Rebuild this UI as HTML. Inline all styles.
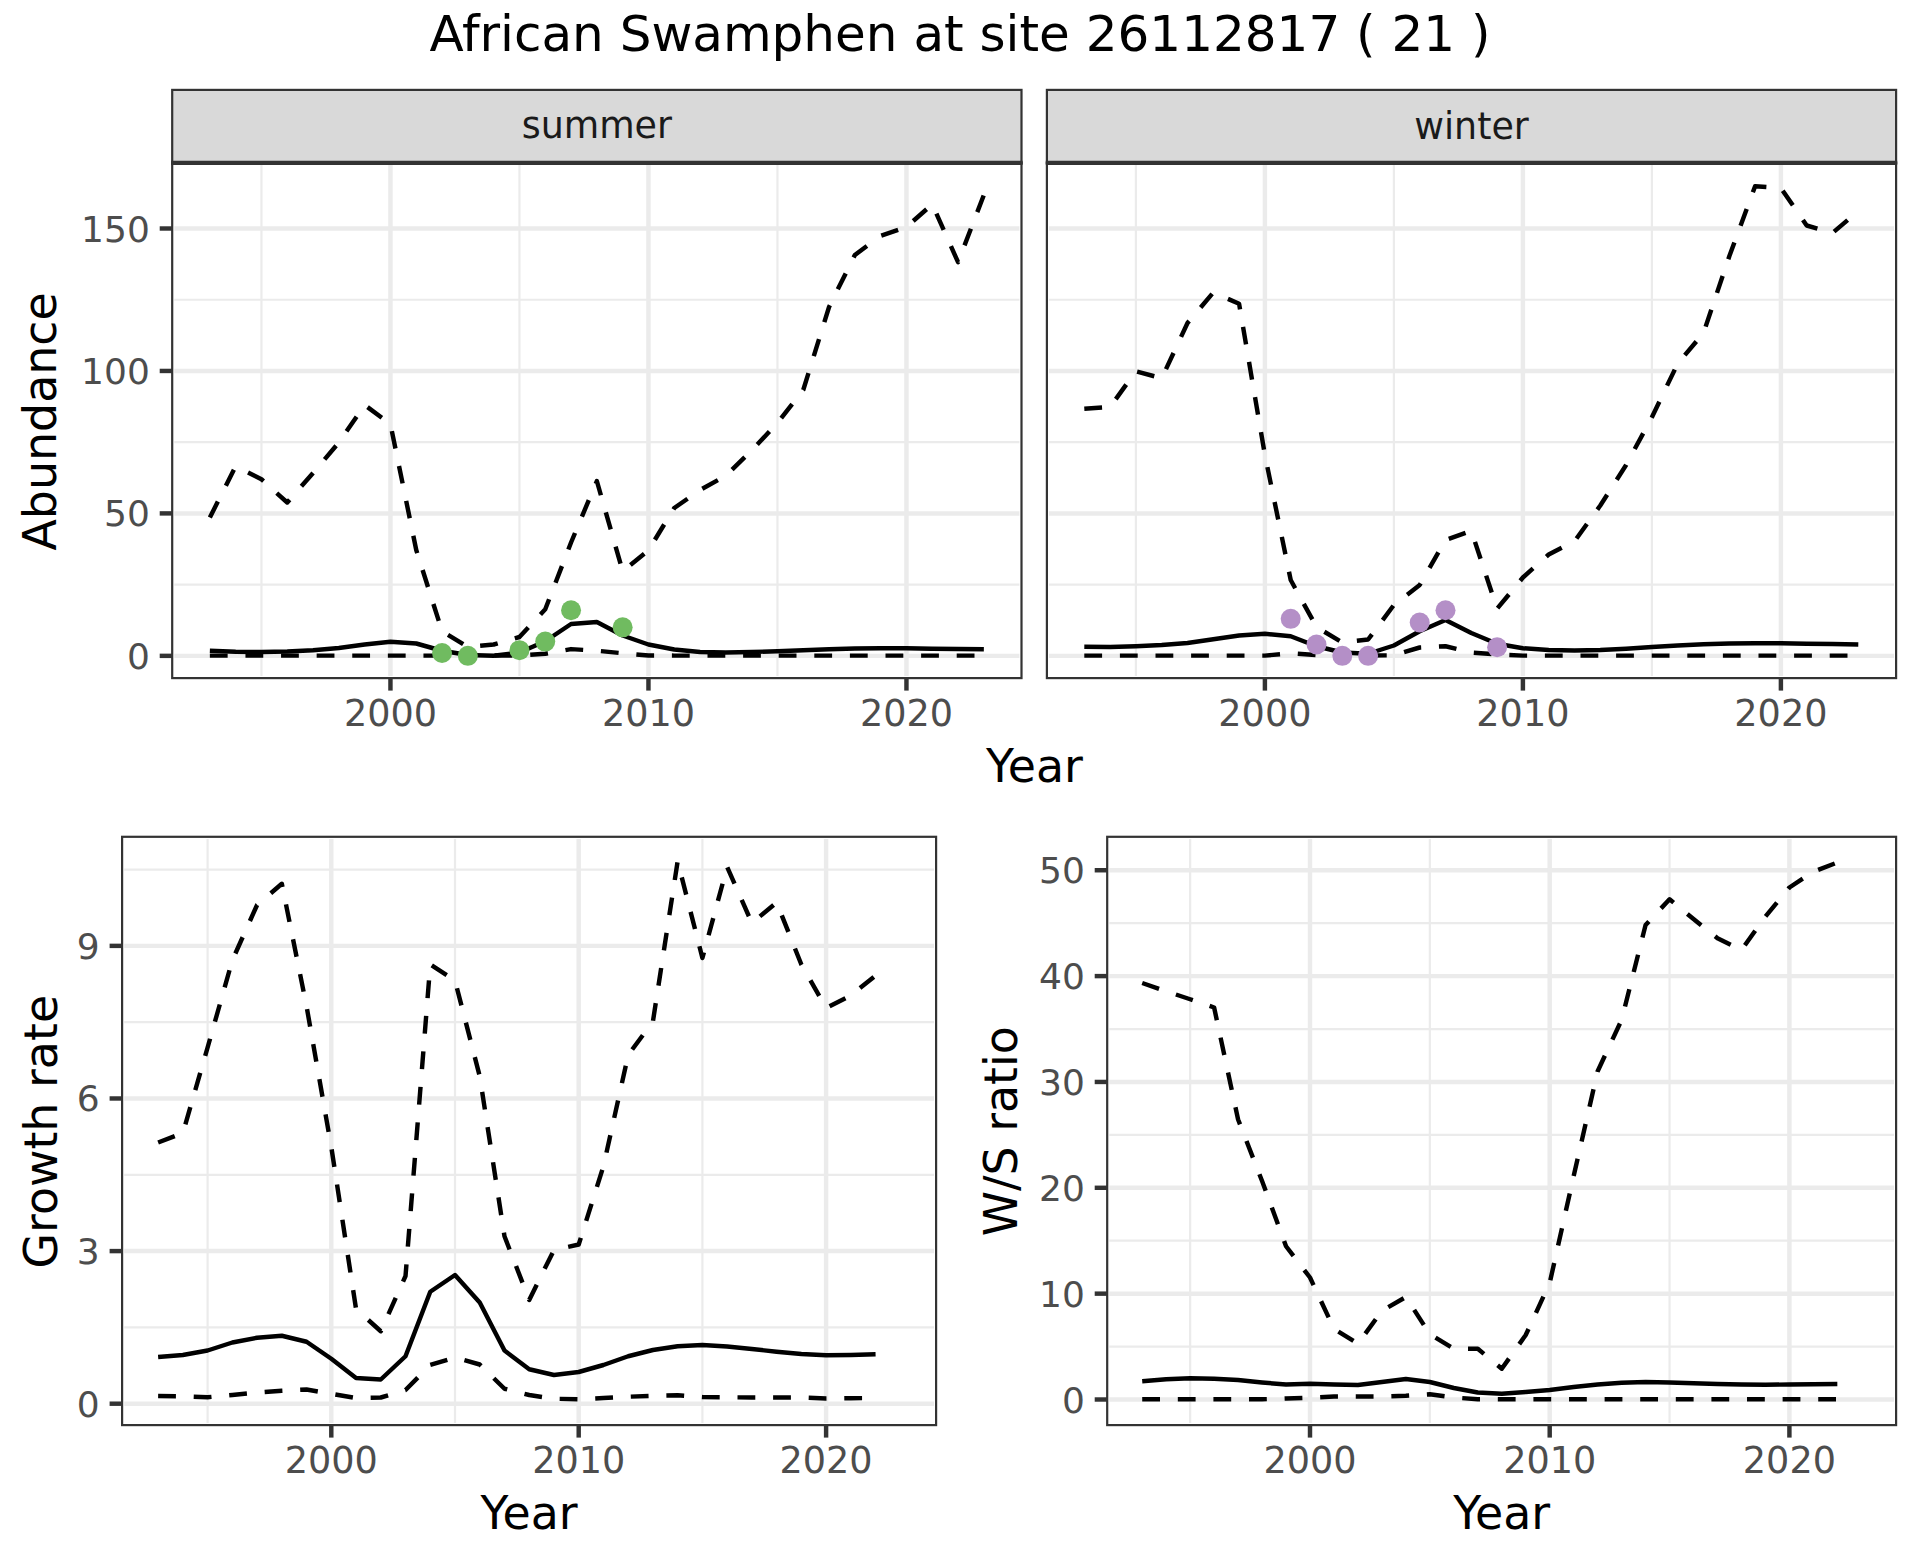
<!DOCTYPE html>
<html lang="en"><head><meta charset="utf-8"><title>African Swamphen at site 26112817</title>
<style>
html,body{margin:0;padding:0;background:#fff;}
body{width:1920px;height:1560px;overflow:hidden;}
svg{display:block;}
text{font-family:"DejaVu Sans","Liberation Sans",sans-serif;}
.ti{font-size:50px;fill:#000;}
.ax{font-size:45.83px;fill:#000;}
.tk{font-size:36px;fill:#4d4d4d;}
.tx{font-size:36.6px;}
.st{font-size:36.4px;fill:#1a1a1a;}
</style></head><body>
<svg width="1920" height="1560" viewBox="0 0 1920 1560">
<rect width="1920" height="1560" fill="#fff"/>
<text x="960" y="50.9" text-anchor="middle" class="ti">African Swamphen at site 26112817 ( 21 )</text>
<rect x="172.2" y="162.9" width="849.30" height="515.20" fill="#fff"/>
<clipPath id="c1"><rect x="172.2" y="162.9" width="849.30" height="515.20"/></clipPath>
<g clip-path="url(#c1)">
<line x1="174.30" x2="1019.40" y1="584.62" y2="584.62" stroke="#ebebeb" stroke-width="2.2"/>
<line x1="174.30" x2="1019.40" y1="442.18" y2="442.18" stroke="#ebebeb" stroke-width="2.2"/>
<line x1="174.30" x2="1019.40" y1="299.73" y2="299.73" stroke="#ebebeb" stroke-width="2.2"/>
<line x1="261.45" x2="261.45" y1="165.00" y2="676.00" stroke="#ebebeb" stroke-width="2.2"/>
<line x1="519.45" x2="519.45" y1="165.00" y2="676.00" stroke="#ebebeb" stroke-width="2.2"/>
<line x1="777.45" x2="777.45" y1="165.00" y2="676.00" stroke="#ebebeb" stroke-width="2.2"/>
<line x1="174.30" x2="1019.40" y1="655.85" y2="655.85" stroke="#ebebeb" stroke-width="4.45"/>
<line x1="174.30" x2="1019.40" y1="513.40" y2="513.40" stroke="#ebebeb" stroke-width="4.45"/>
<line x1="174.30" x2="1019.40" y1="370.95" y2="370.95" stroke="#ebebeb" stroke-width="4.45"/>
<line x1="174.30" x2="1019.40" y1="228.50" y2="228.50" stroke="#ebebeb" stroke-width="4.45"/>
<line x1="390.45" x2="390.45" y1="165.00" y2="676.00" stroke="#ebebeb" stroke-width="4.45"/>
<line x1="648.45" x2="648.45" y1="165.00" y2="676.00" stroke="#ebebeb" stroke-width="4.45"/>
<line x1="906.45" x2="906.45" y1="165.00" y2="676.00" stroke="#ebebeb" stroke-width="4.45"/>
<polyline points="209.85,655.60 235.65,655.60 261.45,655.60 287.25,655.60 313.05,655.60 338.85,655.60 364.65,655.60 390.45,655.60 416.25,655.60 442.05,655.60 467.85,655.60 493.65,655.60 519.45,655.50 545.25,653.75 571.05,649.10 596.85,650.75 622.65,653.25 648.45,655.50 674.25,655.60 700.05,655.60 725.85,655.60 751.65,655.60 777.45,655.60 803.25,655.60 829.05,655.60 854.85,655.60 880.65,655.60 906.45,655.60 932.25,655.60 958.05,655.60 983.85,655.60" fill="none" stroke="#000" stroke-width="4.45" stroke-linejoin="round" stroke-linecap="butt" stroke-dasharray="17.8 17.8"/>
<polyline points="209.85,517.50 235.65,466.30 261.45,479.25 287.25,502.50 313.05,473.00 338.85,442.50 364.65,405.00 390.45,424.20 416.25,550.00 442.05,631.25 467.85,647.00 493.65,644.50 519.45,637.00 545.25,609.30 571.05,542.50 596.85,481.00 622.65,571.20 648.45,550.30 674.25,508.00 700.05,490.00 725.85,475.75 751.65,450.50 777.45,423.00 803.25,390.00 829.05,307.00 854.85,255.00 880.65,235.75 906.45,227.00 932.25,204.30 958.05,262.20 983.85,195.00" fill="none" stroke="#000" stroke-width="4.45" stroke-linejoin="round" stroke-linecap="butt" stroke-dasharray="17.8 17.8"/>
<polyline points="209.85,650.75 235.65,651.75 261.45,652.00 287.25,651.50 313.05,650.25 338.85,648.00 364.65,644.50 390.45,641.75 416.25,643.50 442.05,650.75 467.85,655.00 493.65,655.75 519.45,652.50 545.25,641.25 571.05,624.00 596.85,622.00 622.65,635.50 648.45,644.50 674.25,649.50 700.05,652.00 725.85,652.50 751.65,652.00 777.45,651.25 803.25,650.25 829.05,649.25 854.85,648.50 880.65,648.25 906.45,648.25 932.25,648.75 958.05,649.00 983.85,649.25" fill="none" stroke="#000" stroke-width="4.45" stroke-linejoin="round" stroke-linecap="butt"/>
<circle cx="442.05" cy="653.00" r="10" fill="#70BB60"/>
<circle cx="467.85" cy="655.85" r="10" fill="#70BB60"/>
<circle cx="519.45" cy="650.15" r="10" fill="#70BB60"/>
<circle cx="545.25" cy="641.61" r="10" fill="#70BB60"/>
<circle cx="571.05" cy="610.27" r="10" fill="#70BB60"/>
<circle cx="622.65" cy="627.36" r="10" fill="#70BB60"/>
</g>
<rect x="172.2" y="162.9" width="849.30" height="515.20" fill="none" stroke="#333" stroke-width="2.2"/>
<line x1="390.45" x2="390.45" y1="678.1" y2="690.60" stroke="#333" stroke-width="4.45"/>
<text x="390.45" y="726.40" text-anchor="middle" class="tk tx">2000</text>
<line x1="648.45" x2="648.45" y1="678.1" y2="690.60" stroke="#333" stroke-width="4.45"/>
<text x="648.45" y="726.40" text-anchor="middle" class="tk tx">2010</text>
<line x1="906.45" x2="906.45" y1="678.1" y2="690.60" stroke="#333" stroke-width="4.45"/>
<text x="906.45" y="726.40" text-anchor="middle" class="tk tx">2020</text>
<line x1="159.70" x2="172.2" y1="655.85" y2="655.85" stroke="#333" stroke-width="4.45"/>
<text x="149.80" y="668.85" text-anchor="end" class="tk">0</text>
<line x1="159.70" x2="172.2" y1="513.40" y2="513.40" stroke="#333" stroke-width="4.45"/>
<text x="149.80" y="526.40" text-anchor="end" class="tk">50</text>
<line x1="159.70" x2="172.2" y1="370.95" y2="370.95" stroke="#333" stroke-width="4.45"/>
<text x="149.80" y="383.95" text-anchor="end" class="tk">100</text>
<line x1="159.70" x2="172.2" y1="228.50" y2="228.50" stroke="#333" stroke-width="4.45"/>
<text x="149.80" y="241.50" text-anchor="end" class="tk">150</text>
<rect x="1046.9" y="162.9" width="849.20" height="515.20" fill="#fff"/>
<clipPath id="c2"><rect x="1046.9" y="162.9" width="849.20" height="515.20"/></clipPath>
<g clip-path="url(#c2)">
<line x1="1049.00" x2="1894.00" y1="584.62" y2="584.62" stroke="#ebebeb" stroke-width="2.2"/>
<line x1="1049.00" x2="1894.00" y1="442.18" y2="442.18" stroke="#ebebeb" stroke-width="2.2"/>
<line x1="1049.00" x2="1894.00" y1="299.73" y2="299.73" stroke="#ebebeb" stroke-width="2.2"/>
<line x1="1135.90" x2="1135.90" y1="165.00" y2="676.00" stroke="#ebebeb" stroke-width="2.2"/>
<line x1="1393.90" x2="1393.90" y1="165.00" y2="676.00" stroke="#ebebeb" stroke-width="2.2"/>
<line x1="1651.90" x2="1651.90" y1="165.00" y2="676.00" stroke="#ebebeb" stroke-width="2.2"/>
<line x1="1049.00" x2="1894.00" y1="655.85" y2="655.85" stroke="#ebebeb" stroke-width="4.45"/>
<line x1="1049.00" x2="1894.00" y1="513.40" y2="513.40" stroke="#ebebeb" stroke-width="4.45"/>
<line x1="1049.00" x2="1894.00" y1="370.95" y2="370.95" stroke="#ebebeb" stroke-width="4.45"/>
<line x1="1049.00" x2="1894.00" y1="228.50" y2="228.50" stroke="#ebebeb" stroke-width="4.45"/>
<line x1="1264.90" x2="1264.90" y1="165.00" y2="676.00" stroke="#ebebeb" stroke-width="4.45"/>
<line x1="1522.90" x2="1522.90" y1="165.00" y2="676.00" stroke="#ebebeb" stroke-width="4.45"/>
<line x1="1780.90" x2="1780.90" y1="165.00" y2="676.00" stroke="#ebebeb" stroke-width="4.45"/>
<polyline points="1084.30,655.60 1110.10,655.60 1135.90,655.60 1161.70,655.60 1187.50,655.60 1213.30,655.60 1239.10,655.60 1264.90,655.60 1290.70,653.25 1316.50,655.00 1342.30,655.60 1368.10,655.60 1393.90,655.30 1419.70,647.50 1445.50,646.25 1471.30,652.50 1497.10,654.50 1522.90,655.60 1548.70,655.60 1574.50,655.60 1600.30,655.60 1626.10,655.60 1651.90,655.60 1677.70,655.60 1703.50,655.60 1729.30,655.60 1755.10,655.60 1780.90,655.60 1806.70,655.60 1832.50,655.60 1858.30,655.60" fill="none" stroke="#000" stroke-width="4.45" stroke-linejoin="round" stroke-linecap="butt" stroke-dasharray="17.8 17.8"/>
<polyline points="1084.30,408.75 1110.10,407.00 1135.90,371.25 1161.70,378.25 1187.50,323.00 1213.30,292.50 1239.10,303.75 1264.90,455.00 1290.70,580.00 1316.50,627.00 1342.30,642.50 1368.10,639.50 1393.90,605.00 1419.70,585.00 1445.50,540.00 1471.30,530.75 1497.10,608.75 1522.90,577.50 1548.70,554.50 1574.50,541.25 1600.30,505.50 1626.10,465.00 1651.90,417.20 1677.70,363.50 1703.50,333.00 1729.30,256.25 1755.10,186.25 1780.90,188.00 1806.70,225.50 1832.50,233.00 1858.30,211.00" fill="none" stroke="#000" stroke-width="4.45" stroke-linejoin="round" stroke-linecap="butt" stroke-dasharray="17.8 17.8"/>
<polyline points="1084.30,646.75 1110.10,647.00 1135.90,646.25 1161.70,645.00 1187.50,643.00 1213.30,639.25 1239.10,635.50 1264.90,633.75 1290.70,636.25 1316.50,646.25 1342.30,652.50 1368.10,653.75 1393.90,645.50 1419.70,631.25 1445.50,620.00 1471.30,633.00 1497.10,643.75 1522.90,648.25 1548.70,650.00 1574.50,650.50 1600.30,650.00 1626.10,648.75 1651.90,647.00 1677.70,645.50 1703.50,644.25 1729.30,643.50 1755.10,643.25 1780.90,643.25 1806.70,643.75 1832.50,644.00 1858.30,644.50" fill="none" stroke="#000" stroke-width="4.45" stroke-linejoin="round" stroke-linecap="butt"/>
<circle cx="1290.70" cy="618.81" r="10" fill="#B48FC7"/>
<circle cx="1316.50" cy="644.45" r="10" fill="#B48FC7"/>
<circle cx="1342.30" cy="655.85" r="10" fill="#B48FC7"/>
<circle cx="1368.10" cy="655.85" r="10" fill="#B48FC7"/>
<circle cx="1419.70" cy="622.52" r="10" fill="#B48FC7"/>
<circle cx="1445.50" cy="610.27" r="10" fill="#B48FC7"/>
<circle cx="1497.10" cy="647.30" r="10" fill="#B48FC7"/>
</g>
<rect x="1046.9" y="162.9" width="849.20" height="515.20" fill="none" stroke="#333" stroke-width="2.2"/>
<line x1="1264.90" x2="1264.90" y1="678.1" y2="690.60" stroke="#333" stroke-width="4.45"/>
<text x="1264.90" y="726.40" text-anchor="middle" class="tk tx">2000</text>
<line x1="1522.90" x2="1522.90" y1="678.1" y2="690.60" stroke="#333" stroke-width="4.45"/>
<text x="1522.90" y="726.40" text-anchor="middle" class="tk tx">2010</text>
<line x1="1780.90" x2="1780.90" y1="678.1" y2="690.60" stroke="#333" stroke-width="4.45"/>
<text x="1780.90" y="726.40" text-anchor="middle" class="tk tx">2020</text>
<rect x="172.2" y="89.9" width="849.30" height="73.00" fill="#d9d9d9" stroke="#333" stroke-width="2.2"/>
<line x1="171.10" x2="1022.60" y1="162.9" y2="162.9" stroke="#333" stroke-width="4.2"/>
<text x="596.85" y="138.2" text-anchor="middle" class="st">summer</text>
<rect x="1046.9" y="89.9" width="849.20" height="73.00" fill="#d9d9d9" stroke="#333" stroke-width="2.2"/>
<line x1="1045.80" x2="1897.20" y1="162.9" y2="162.9" stroke="#333" stroke-width="4.2"/>
<text x="1471.50" y="138.7" text-anchor="middle" class="st">winter</text>
<text x="1034.4" y="782" text-anchor="middle" class="ax">Year</text>
<text transform="translate(56.2,421.4) rotate(-90)" text-anchor="middle" class="ax">Abundance</text>
<rect x="122.1" y="836.8" width="814.00" height="588.30" fill="#fff"/>
<clipPath id="c3"><rect x="122.1" y="836.8" width="814.00" height="588.30"/></clipPath>
<g clip-path="url(#c3)">
<line x1="124.20" x2="934.00" y1="1327.39" y2="1327.39" stroke="#ebebeb" stroke-width="2.2"/>
<line x1="124.20" x2="934.00" y1="1174.79" y2="1174.79" stroke="#ebebeb" stroke-width="2.2"/>
<line x1="124.20" x2="934.00" y1="1022.18" y2="1022.18" stroke="#ebebeb" stroke-width="2.2"/>
<line x1="124.20" x2="934.00" y1="869.57" y2="869.57" stroke="#ebebeb" stroke-width="2.2"/>
<line x1="207.60" x2="207.60" y1="838.90" y2="1423.00" stroke="#ebebeb" stroke-width="2.2"/>
<line x1="455.00" x2="455.00" y1="838.90" y2="1423.00" stroke="#ebebeb" stroke-width="2.2"/>
<line x1="702.40" x2="702.40" y1="838.90" y2="1423.00" stroke="#ebebeb" stroke-width="2.2"/>
<line x1="124.20" x2="934.00" y1="1403.70" y2="1403.70" stroke="#ebebeb" stroke-width="4.45"/>
<line x1="124.20" x2="934.00" y1="1251.09" y2="1251.09" stroke="#ebebeb" stroke-width="4.45"/>
<line x1="124.20" x2="934.00" y1="1098.48" y2="1098.48" stroke="#ebebeb" stroke-width="4.45"/>
<line x1="124.20" x2="934.00" y1="945.87" y2="945.87" stroke="#ebebeb" stroke-width="4.45"/>
<line x1="331.30" x2="331.30" y1="838.90" y2="1423.00" stroke="#ebebeb" stroke-width="4.45"/>
<line x1="578.70" x2="578.70" y1="838.90" y2="1423.00" stroke="#ebebeb" stroke-width="4.45"/>
<line x1="826.10" x2="826.10" y1="838.90" y2="1423.00" stroke="#ebebeb" stroke-width="4.45"/>
<polyline points="158.12,1396.00 182.86,1396.25 207.60,1397.25 232.34,1395.00 257.08,1392.50 281.82,1390.75 306.56,1389.50 331.30,1393.75 356.04,1398.00 380.78,1397.50 405.52,1390.00 430.26,1365.00 455.00,1357.50 479.74,1364.50 504.48,1388.75 529.22,1395.00 553.96,1398.75 578.70,1399.25 603.44,1398.00 628.18,1396.75 652.92,1395.75 677.66,1395.25 702.40,1397.00 727.14,1397.25 751.88,1397.50 776.62,1397.50 801.36,1397.50 826.10,1398.50 850.84,1398.25 875.58,1398.00" fill="none" stroke="#000" stroke-width="4.45" stroke-linejoin="round" stroke-linecap="butt" stroke-dasharray="17.8 17.8"/>
<polyline points="158.12,1142.50 182.86,1133.00 207.60,1047.50 232.34,960.25 257.08,905.00 281.82,883.75 306.56,1006.25 331.30,1147.00 356.04,1309.00 380.78,1331.25 405.52,1276.00 430.26,964.50 455.00,980.50 479.74,1076.25 504.48,1236.25 529.22,1300.00 553.96,1250.00 578.70,1244.50 603.44,1166.25 628.18,1055.00 652.92,1021.50 677.66,861.25 702.40,958.00 727.14,867.00 751.88,923.00 776.62,902.50 801.36,964.50 826.10,1008.00 850.84,995.50 875.58,975.50" fill="none" stroke="#000" stroke-width="4.45" stroke-linejoin="round" stroke-linecap="butt" stroke-dasharray="17.8 17.8"/>
<polyline points="158.12,1357.00 182.86,1355.00 207.60,1350.50 232.34,1342.50 257.08,1337.75 281.82,1335.75 306.56,1341.75 331.30,1358.75 356.04,1378.00 380.78,1379.50 405.52,1356.25 430.26,1291.75 455.00,1275.00 479.74,1302.50 504.48,1350.50 529.22,1369.25 553.96,1375.00 578.70,1372.00 603.44,1365.00 628.18,1356.25 652.92,1350.00 677.66,1346.25 702.40,1345.00 727.14,1346.50 751.88,1349.00 776.62,1351.75 801.36,1354.00 826.10,1355.25 850.84,1355.00 875.58,1354.25" fill="none" stroke="#000" stroke-width="4.45" stroke-linejoin="round" stroke-linecap="butt"/>
</g>
<rect x="122.1" y="836.8" width="814.00" height="588.30" fill="none" stroke="#333" stroke-width="2.2"/>
<line x1="331.30" x2="331.30" y1="1425.1" y2="1437.60" stroke="#333" stroke-width="4.45"/>
<text x="331.30" y="1473.40" text-anchor="middle" class="tk tx">2000</text>
<line x1="578.70" x2="578.70" y1="1425.1" y2="1437.60" stroke="#333" stroke-width="4.45"/>
<text x="578.70" y="1473.40" text-anchor="middle" class="tk tx">2010</text>
<line x1="826.10" x2="826.10" y1="1425.1" y2="1437.60" stroke="#333" stroke-width="4.45"/>
<text x="826.10" y="1473.40" text-anchor="middle" class="tk tx">2020</text>
<line x1="109.60" x2="122.1" y1="1403.70" y2="1403.70" stroke="#333" stroke-width="4.45"/>
<text x="99.70" y="1416.70" text-anchor="end" class="tk">0</text>
<line x1="109.60" x2="122.1" y1="1251.09" y2="1251.09" stroke="#333" stroke-width="4.45"/>
<text x="99.70" y="1264.09" text-anchor="end" class="tk">3</text>
<line x1="109.60" x2="122.1" y1="1098.48" y2="1098.48" stroke="#333" stroke-width="4.45"/>
<text x="99.70" y="1111.48" text-anchor="end" class="tk">6</text>
<line x1="109.60" x2="122.1" y1="945.87" y2="945.87" stroke="#333" stroke-width="4.45"/>
<text x="99.70" y="958.87" text-anchor="end" class="tk">9</text>
<text x="529.10" y="1529" text-anchor="middle" class="ax">Year</text>
<text transform="translate(56.5,1131.7) rotate(-90)" text-anchor="middle" class="ax">Growth rate</text>
<rect x="1107.2" y="836.8" width="788.90" height="588.30" fill="#fff"/>
<clipPath id="c4"><rect x="1107.2" y="836.8" width="788.90" height="588.30"/></clipPath>
<g clip-path="url(#c4)">
<line x1="1109.30" x2="1894.00" y1="1346.58" y2="1346.58" stroke="#ebebeb" stroke-width="2.2"/>
<line x1="1109.30" x2="1894.00" y1="1240.72" y2="1240.72" stroke="#ebebeb" stroke-width="2.2"/>
<line x1="1109.30" x2="1894.00" y1="1134.88" y2="1134.88" stroke="#ebebeb" stroke-width="2.2"/>
<line x1="1109.30" x2="1894.00" y1="1029.03" y2="1029.03" stroke="#ebebeb" stroke-width="2.2"/>
<line x1="1109.30" x2="1894.00" y1="923.17" y2="923.17" stroke="#ebebeb" stroke-width="2.2"/>
<line x1="1190.15" x2="1190.15" y1="838.90" y2="1423.00" stroke="#ebebeb" stroke-width="2.2"/>
<line x1="1429.85" x2="1429.85" y1="838.90" y2="1423.00" stroke="#ebebeb" stroke-width="2.2"/>
<line x1="1669.55" x2="1669.55" y1="838.90" y2="1423.00" stroke="#ebebeb" stroke-width="2.2"/>
<line x1="1109.30" x2="1894.00" y1="1399.50" y2="1399.50" stroke="#ebebeb" stroke-width="4.45"/>
<line x1="1109.30" x2="1894.00" y1="1293.65" y2="1293.65" stroke="#ebebeb" stroke-width="4.45"/>
<line x1="1109.30" x2="1894.00" y1="1187.80" y2="1187.80" stroke="#ebebeb" stroke-width="4.45"/>
<line x1="1109.30" x2="1894.00" y1="1081.95" y2="1081.95" stroke="#ebebeb" stroke-width="4.45"/>
<line x1="1109.30" x2="1894.00" y1="976.10" y2="976.10" stroke="#ebebeb" stroke-width="4.45"/>
<line x1="1109.30" x2="1894.00" y1="870.25" y2="870.25" stroke="#ebebeb" stroke-width="4.45"/>
<line x1="1310.00" x2="1310.00" y1="838.90" y2="1423.00" stroke="#ebebeb" stroke-width="4.45"/>
<line x1="1549.70" x2="1549.70" y1="838.90" y2="1423.00" stroke="#ebebeb" stroke-width="4.45"/>
<line x1="1789.40" x2="1789.40" y1="838.90" y2="1423.00" stroke="#ebebeb" stroke-width="4.45"/>
<polyline points="1142.21,1399.25 1166.18,1399.25 1190.15,1399.25 1214.12,1399.25 1238.09,1399.25 1262.06,1399.25 1286.03,1398.50 1310.00,1397.75 1333.97,1396.50 1357.94,1396.50 1381.91,1396.50 1405.88,1395.75 1429.85,1394.25 1453.82,1397.50 1477.79,1399.25 1501.76,1399.30 1525.73,1399.30 1549.70,1399.30 1573.67,1399.30 1597.64,1399.30 1621.61,1399.30 1645.58,1399.30 1669.55,1399.30 1693.52,1399.30 1717.49,1399.30 1741.46,1399.30 1765.43,1399.30 1789.40,1399.30 1813.37,1399.30 1837.34,1399.30" fill="none" stroke="#000" stroke-width="4.45" stroke-linejoin="round" stroke-linecap="butt" stroke-dasharray="17.8 17.8"/>
<polyline points="1142.21,983.00 1166.18,991.25 1190.15,999.25 1214.12,1007.50 1238.09,1119.50 1262.06,1181.00 1286.03,1246.25 1310.00,1277.50 1333.97,1328.75 1357.94,1343.75 1381.91,1310.75 1405.88,1297.00 1429.85,1334.25 1453.82,1348.75 1477.79,1348.75 1501.76,1368.75 1525.73,1335.00 1549.70,1283.00 1573.67,1176.00 1597.64,1071.25 1621.61,1020.00 1645.58,925.00 1669.55,899.25 1693.52,919.00 1717.49,938.25 1741.46,950.00 1765.43,916.50 1789.40,887.50 1813.37,871.75 1837.34,862.50" fill="none" stroke="#000" stroke-width="4.45" stroke-linejoin="round" stroke-linecap="butt" stroke-dasharray="17.8 17.8"/>
<polyline points="1142.21,1381.25 1166.18,1379.25 1190.15,1378.25 1214.12,1378.75 1238.09,1380.00 1262.06,1382.50 1286.03,1384.50 1310.00,1383.75 1333.97,1384.50 1357.94,1385.00 1381.91,1382.00 1405.88,1379.00 1429.85,1382.00 1453.82,1388.00 1477.79,1392.50 1501.76,1393.75 1525.73,1392.00 1549.70,1390.00 1573.67,1387.00 1597.64,1384.50 1621.61,1382.75 1645.58,1382.00 1669.55,1382.50 1693.52,1383.25 1717.49,1384.00 1741.46,1384.50 1765.43,1384.75 1789.40,1384.50 1813.37,1384.25 1837.34,1384.00" fill="none" stroke="#000" stroke-width="4.45" stroke-linejoin="round" stroke-linecap="butt"/>
</g>
<rect x="1107.2" y="836.8" width="788.90" height="588.30" fill="none" stroke="#333" stroke-width="2.2"/>
<line x1="1310.00" x2="1310.00" y1="1425.1" y2="1437.60" stroke="#333" stroke-width="4.45"/>
<text x="1310.00" y="1473.40" text-anchor="middle" class="tk tx">2000</text>
<line x1="1549.70" x2="1549.70" y1="1425.1" y2="1437.60" stroke="#333" stroke-width="4.45"/>
<text x="1549.70" y="1473.40" text-anchor="middle" class="tk tx">2010</text>
<line x1="1789.40" x2="1789.40" y1="1425.1" y2="1437.60" stroke="#333" stroke-width="4.45"/>
<text x="1789.40" y="1473.40" text-anchor="middle" class="tk tx">2020</text>
<line x1="1094.70" x2="1107.2" y1="1399.50" y2="1399.50" stroke="#333" stroke-width="4.45"/>
<text x="1084.80" y="1412.50" text-anchor="end" class="tk">0</text>
<line x1="1094.70" x2="1107.2" y1="1293.65" y2="1293.65" stroke="#333" stroke-width="4.45"/>
<text x="1084.80" y="1306.65" text-anchor="end" class="tk">10</text>
<line x1="1094.70" x2="1107.2" y1="1187.80" y2="1187.80" stroke="#333" stroke-width="4.45"/>
<text x="1084.80" y="1200.80" text-anchor="end" class="tk">20</text>
<line x1="1094.70" x2="1107.2" y1="1081.95" y2="1081.95" stroke="#333" stroke-width="4.45"/>
<text x="1084.80" y="1094.95" text-anchor="end" class="tk">30</text>
<line x1="1094.70" x2="1107.2" y1="976.10" y2="976.10" stroke="#333" stroke-width="4.45"/>
<text x="1084.80" y="989.10" text-anchor="end" class="tk">40</text>
<line x1="1094.70" x2="1107.2" y1="870.25" y2="870.25" stroke="#333" stroke-width="4.45"/>
<text x="1084.80" y="883.25" text-anchor="end" class="tk">50</text>
<text x="1501.65" y="1529" text-anchor="middle" class="ax">Year</text>
<text transform="translate(1017,1131.2) rotate(-90)" text-anchor="middle" class="ax">W/S ratio</text>
</svg>
</body></html>
